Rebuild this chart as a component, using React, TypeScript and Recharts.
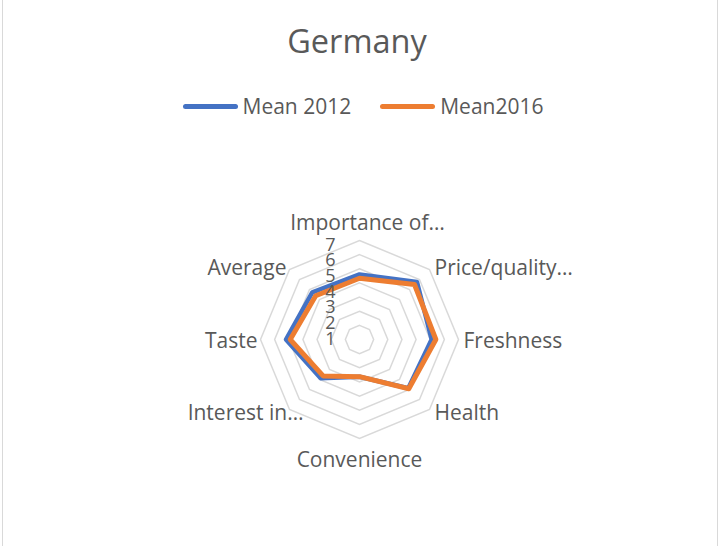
import { Legend, PolarAngleAxis, PolarGrid, PolarRadiusAxis, Radar, RadarChart } from "recharts";

const CATEGORIES = [
  "Importance of…", "Price/quality…", "Freshness", "Health",
  "Convenience", "Interest in…", "Taste", "Average",
];
const MEAN_2012 = [4.6, 5.75, 5.1, 4.88, 2.63, 3.88, 5.2, 4.72];
const MEAN_2016 = [4.33, 5.5, 5.4, 4.93, 2.63, 3.64, 4.9, 4.38];
const RADIUS_TICKS = [0, 1, 2, 3, 4, 5, 6, 7];

const SERIES = [
  { key: "m2012", name: "Mean 2012", color: "#4472C4", width: 4.5 },
  { key: "m2016", name: "Mean2016", color: "#ED7D31", width: 5 },
];

const data = CATEGORIES.map((c, i) => ({ cat: c, m2012: MEAN_2012[i], m2016: MEAN_2016[i] }));

const W = 718, H = 546;
const CX = 359.5, CY = 339.5, R = 99;
const FONT = "'Open Sans', sans-serif";
const TXT = "#595959";
// excel pushes a couple of the truncated labels sideways
const LABEL_DX: Record<string, number> = { "Importance of…": 8, "Interest in…": 17 };

function AngleTick(props: any) {
  const { x, y, payload } = props;
  const a = Math.atan2(CY - y, x - CX);
  const cos = Math.cos(a), sin = Math.sin(a);
  const vx = CX + R * cos, vy = CY - R * sin;
  let anchor = "middle", tx = vx, ty = vy;
  if (Math.abs(cos) < 0.1) {
    ty = sin > 0 ? vy - 19 : vy + 20;
  } else {
    anchor = cos > 0 ? "start" : "end";
    tx = vx + (cos > 0 ? 5 : -3);
    ty = vy - sin * 3.5;
  }
  tx += LABEL_DX[payload.value] || 0;
  return (
    <text x={tx} y={ty} textAnchor={anchor} dominantBaseline="central" fill={TXT} fontSize={21} fontFamily={FONT}>
      {payload.value}
    </text>
  );
}

function RadiusTick(props: any) {
  const { x, y, payload } = props;
  if (payload.value === 0) return null;
  return (
    <text x={x - 29} y={y + (7 - payload.value) * 1.6 + 3} textAnchor="middle" dominantBaseline="central" fill={TXT} fontSize={18} fontFamily={FONT}>
      {payload.value}
    </text>
  );
}

function LegendContent() {
  return (
    <div style={{ display: "flex", justifyContent: "center", alignItems: "center", gap: 29, fontFamily: FONT, fontSize: 21, color: TXT, paddingLeft: 8 }}>
      {SERIES.map((s) => (
        <span key={s.key} style={{ display: "flex", alignItems: "center", gap: 5 }}>
          <span style={{ width: 55, height: 5, borderRadius: 3, background: s.color, display: "inline-block" }} />
          {s.name}
        </span>
      ))}
    </div>
  );
}

export default function App() {
  return (
    <div style={{ position: "absolute", left: 0, top: 0, width: W, height: H, background: "#fff" }}>
      <div style={{ position: "absolute", left: 2, top: 0, width: 714, height: H, borderLeft: "1px solid #d9d9d9", borderRight: "1px solid #d9d9d9" }} />
      <div style={{ position: "absolute", left: 0, top: 21, width: W - 4, textAlign: "center", fontFamily: FONT, fontSize: 32.5, color: TXT, lineHeight: "40px" }}>
        Germany
      </div>
      <RadarChart width={W} height={H} data={data} cx={CX} cy={CY} outerRadius={R} startAngle={90} endAngle={-270} style={{ position: "absolute", left: 0, top: 0 }}>
        <PolarGrid gridType="polygon" radialLines={false} stroke="#d9d9d9" strokeWidth={1.5} />
        <PolarAngleAxis dataKey="cat" tick={<AngleTick />} tickLine={false} axisLine={false} />
        <PolarRadiusAxis angle={90} domain={[0, 7]} ticks={RADIUS_TICKS as any} tickCount={8} tick={<RadiusTick />} axisLine={false} tickLine={false} />
        {SERIES.map((s) => (
          <Radar key={s.key} name={s.name} dataKey={s.key} stroke={s.color} strokeWidth={s.width} strokeLinejoin="round" fill="none" fillOpacity={0} dot={false} isAnimationActive={false} />
        ))}
        <Legend verticalAlign="top" content={<LegendContent />} wrapperStyle={{ top: 92, left: 0, width: W }} />
      </RadarChart>
    </div>
  );
}
